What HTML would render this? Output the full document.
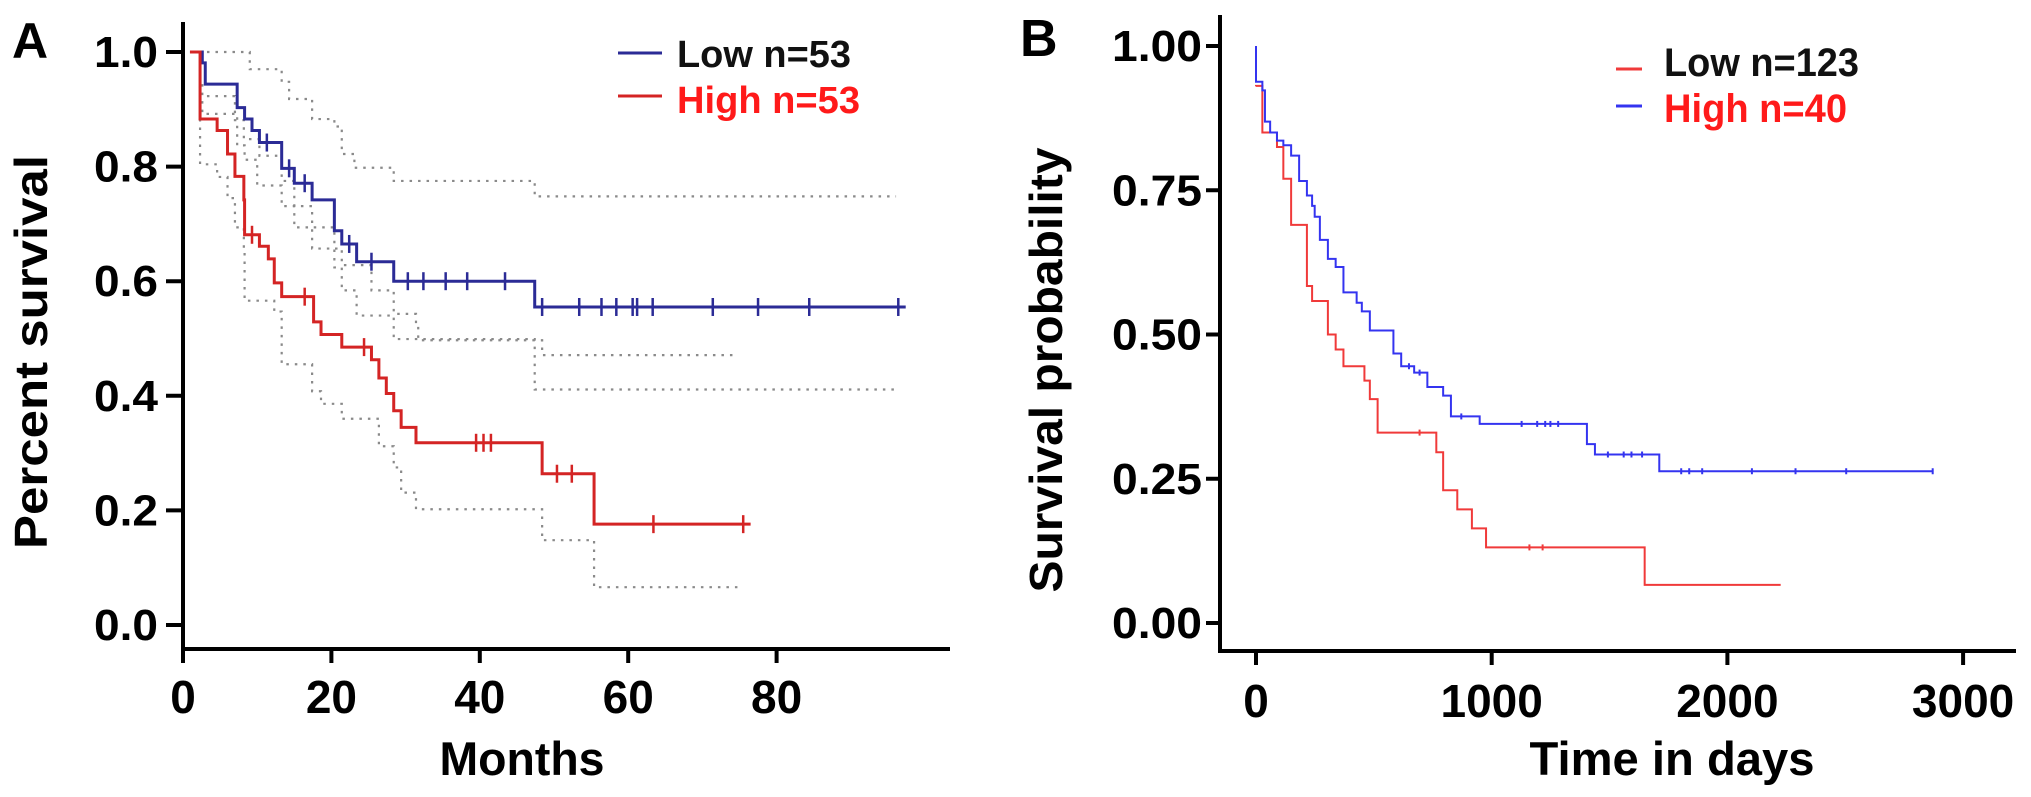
<!DOCTYPE html>
<html><head><meta charset="utf-8"><style>
html,body{margin:0;padding:0;background:#fff;}
svg{display:block;font-family:"Liberation Sans",Arial,sans-serif;font-weight:bold;}
</style></head>
<body>
<svg id="fig" width="2031" height="797" viewBox="0 0 2031 797" xmlns="http://www.w3.org/2000/svg">
<g id="panelA"></g>
<g id="panelB"></g>
</svg>
<script>
// ---------- Panel A data (months, survival) ----------
const aLowTimes=[2.6,3.0,7.3,8.3,9.3,10.3,13.3,15,17.4,20.4,21.4,23.4,28.4,47.4];
const aLowSurv=[0.981,0.944,0.903,0.883,0.863,0.842,0.797,0.771,0.742,0.688,0.665,0.634,0.600,0.555];
const aLowEnd=97.4;
const aLowCensor=[11.3,14.3,16.4,22.4,25.4,30.3,32.4,35.4,38.3,43.4,48.4,53.4,56.4,58.4,60.6,61.2,63.3,71.4,77.5,84.4,96.4];
const aHighTimes=[2.3,4.6,6,7,8.2,8.3,10.3,11.5,12.3,13.3,17.6,18.6,21.4,25.4,26.4,27.4,28.4,29.4,31.4,48.4,55.4];
const aHighSurv=[0.883,0.863,0.822,0.783,0.742,0.681,0.661,0.639,0.597,0.573,0.529,0.507,0.485,0.463,0.431,0.404,0.374,0.345,0.318,0.264,0.176];
const aHighEnd=76.5;
const aHighCensor=[9.3,16.4,24.4,39.5,40.5,41.5,50.4,52.4,63.4,75.5];
const aLowUpperTimes=[7.0,9.0,13.3,14.3,17.4,20.4,21.4,23.1,28.4,47.4];
const aLowUpperVals=[1.0,0.97,0.948,0.918,0.883,0.87,0.822,0.798,0.775,0.748];
const aLowUpperEnd=96.1;
const aLowLowerTimes=[2.6,7.3,8.3,10,13.3,15,17.4,20.4,21.4,23.4,28.4,47.4];
const aLowLowerVals=[0.892,0.837,0.812,0.767,0.731,0.694,0.657,0.624,0.584,0.54,0.499,0.411];
const aLowLowerEnd=96.4;
const aHighUpperTimes=[2.3,7,8.2,10.3,13.3,15,17.4,20.4,21.4,25.4,28.4,31.4,31.7,48.4];
const aHighUpperVals=[0.923,0.881,0.848,0.819,0.775,0.731,0.694,0.657,0.628,0.584,0.543,0.525,0.497,0.471];
const aHighUpperEnd=74.3;
const aHighLowerTimes=[2.3,4.6,6,7,8.2,8.3,12.3,13.3,17.4,18.6,21.4,26.4,28.4,29.4,31.4,48.4,55.4];
const aHighLowerVals=[0.804,0.782,0.745,0.694,0.65,0.566,0.547,0.455,0.408,0.386,0.36,0.312,0.275,0.231,0.202,0.148,0.066];
const aHighLowerEnd=75.5;
const aXTicks=[0,20,40,60,80];
const aYTicks=[0,0.2,0.4,0.6,0.8,1.0];
const aYTickLabels=["0.0","0.2","0.4","0.6","0.8","1.0"];
const aStart=0.94;

// ---------- Panel B data (days, survival) ----------
const bBlueTimes=[0,27,38,60,89,116,149,183,216,238,249,271,305,338,371,427,449,483,583,616,671,727,794,827,949,1404,1438,1711];
const bBlueSurv=[0.938,0.923,0.869,0.850,0.836,0.828,0.810,0.766,0.741,0.723,0.704,0.664,0.631,0.617,0.573,0.555,0.540,0.507,0.467,0.445,0.434,0.409,0.394,0.358,0.345,0.310,0.292,0.263];
const bBlueEnd=2871;
const bBlueCensor=[649,694,871,1127,1193,1227,1249,1282,1493,1560,1593,1638,1804,1838,1893,2104,2289,2504,2871];
const bRedTimes=[0,27,89,116,149,216,238,305,338,371,460,483,516,765,794,854,916,976,1649];
const bRedSurv=[0.931,0.850,0.825,0.770,0.690,0.584,0.558,0.500,0.474,0.445,0.420,0.388,0.330,0.296,0.230,0.197,0.164,0.131,0.066];
const bRedEnd=2226;
const bRedCensor=[694,1160,1216];
const bXTicks=[0,1000,2000,3000];
const bYTicks=[0,0.25,0.5,0.75,1.0];
const bYTickLabels=["0.00","0.25","0.50","0.75","1.00"];

const NS="http://www.w3.org/2000/svg";
function mk(parent,tag,attrs,text){
  const e=document.createElementNS(NS,tag);
  for(const k in attrs)e.setAttribute(k,attrs[k]);
  if(text!==undefined)e.textContent=text;
  parent.appendChild(e);return e;
}
function stepPath(x,y,t0,v0,times,vals,end){
  let d="M"+x(t0)+","+y(v0);
  for(let i=0;i<times.length;i++){d+=" H"+x(times[i])+" V"+y(vals[i]);}
  d+=" H"+x(end);return d;
}
function valueAt(t,times,vals,v0){let v=v0;for(let i=0;i<times.length;i++){if(times[i]<=t)v=vals[i];}return v;}

// ----- Panel A -----
const gA=document.getElementById('panelA');
const ax=m=>183+m*7.42;
const ay=v=>625-v*573;
let el;
el=mk(gA,'text',{x:12,y:58,'font-size':50});el.textContent='A';


el=mk(gA,'text',{x:0,y:0,'font-size':46,transform:'translate(47,352) rotate(-90)','text-anchor':'middle',textLength:394,lengthAdjust:'spacingAndGlyphs'});el.textContent='Percent survival';


el=mk(gA,'text',{x:522,y:775,'font-size':47,'text-anchor':'middle',textLength:165,lengthAdjust:'spacingAndGlyphs'});el.textContent='Months';


el=mk(gA,'line',{x1:183,y1:22,x2:183,y2:651,stroke:'#000','stroke-width':4});


el=mk(gA,'line',{x1:181,y1:649,x2:950,y2:649,stroke:'#000','stroke-width':4});


aYTicks.forEach((v,i)=>{
  const t=mk(gA,'line',{x1:166,y1:ay(v),x2:183,y2:ay(v),stroke:'#000','stroke-width':4});
  
  
  const l=mk(gA,'text',{x:158,y:ay(v)+15,'font-size':44,'text-anchor':'end',textLength:64,lengthAdjust:'spacingAndGlyphs'});l.textContent=aYTickLabels[i];
  
  
});
aXTicks.forEach(m=>{
  const t=mk(gA,'line',{x1:ax(m),y1:649,x2:ax(m),y2:663,stroke:'#000','stroke-width':4});
  
  
  const l=mk(gA,'text',{x:ax(m),y:713,'font-size':46,'text-anchor':'middle'});l.textContent=String(m);
  
  
});
// CI bands
[[aLowUpperTimes,aLowUpperVals,aLowUpperEnd,aStart,1.0,'ci-upper-low'],
 [aLowLowerTimes,aLowLowerVals,aLowLowerEnd,2.6,0.944,'ci-lower-low'],
 [aHighUpperTimes,aHighUpperVals,aHighUpperEnd,2.3,1.0,'ci-upper-high'],
 [aHighLowerTimes,aHighLowerVals,aHighLowerEnd,2.3,0.883,'ci-lower-high']].forEach(c=>{
  const p=mk(gA,'path',{d:stepPath(ax,ay,c[3],c[4],c[0],c[1],c[2]),fill:'none',stroke:'#8a8a8a','stroke-width':2.2,'stroke-dasharray':'2.5 6'});
  
  
});
const lowColA='#2b2b96', highColA='#d42424';
el=mk(gA,'path',{d:stepPath(ax,ay,aStart,1.0,aLowTimes,aLowSurv,aLowEnd),fill:'none',stroke:lowColA,'stroke-width':3});


el=mk(gA,'path',{d:stepPath(ax,ay,aStart,1.0,aHighTimes,aHighSurv,aHighEnd),fill:'none',stroke:highColA,'stroke-width':3});


aLowCensor.forEach(t=>{const v=valueAt(t,aLowTimes,aLowSurv,1);
  const c=mk(gA,'line',{x1:ax(t),y1:ay(v)-9,x2:ax(t),y2:ay(v)+9,stroke:lowColA,'stroke-width':2.5});
  
  });
aHighCensor.forEach(t=>{const v=valueAt(t,aHighTimes,aHighSurv,1);
  const c=mk(gA,'line',{x1:ax(t),y1:ay(v)-9,x2:ax(t),y2:ay(v)+9,stroke:highColA,'stroke-width':2.5});
  
  });
// legend A
el=mk(gA,'line',{x1:618,y1:53,x2:662,y2:53,stroke:lowColA,'stroke-width':3});


el=mk(gA,'text',{x:677,y:67,'font-size':38,fill:'#111',textLength:174,lengthAdjust:'spacingAndGlyphs'});el.textContent='Low n=53';


el=mk(gA,'line',{x1:618,y1:96,x2:662,y2:96,stroke:highColA,'stroke-width':3});


el=mk(gA,'text',{x:677,y:113,'font-size':38,fill:'#ff1a1a',textLength:183,lengthAdjust:'spacingAndGlyphs'});el.textContent='High n=53';



// ----- Panel B -----
const gB=document.getElementById('panelB');
const bx=d=>1256+d*0.2357;
const by=v=>623-v*577;
el=mk(gB,'text',{x:1020,y:56,'font-size':52});el.textContent='B';


el=mk(gB,'text',{x:0,y:0,'font-size':46,transform:'translate(1062,370) rotate(-90)','text-anchor':'middle',textLength:445,lengthAdjust:'spacingAndGlyphs'});el.textContent='Survival probability';


el=mk(gB,'text',{x:1672,y:775,'font-size':47,'text-anchor':'middle',textLength:285,lengthAdjust:'spacingAndGlyphs'});el.textContent='Time in days';


el=mk(gB,'line',{x1:1220,y1:15,x2:1220,y2:653,stroke:'#000','stroke-width':4});


el=mk(gB,'line',{x1:1218,y1:651,x2:2016,y2:651,stroke:'#000','stroke-width':4});


bYTicks.forEach((v,i)=>{
  const t=mk(gB,'line',{x1:1206,y1:by(v),x2:1220,y2:by(v),stroke:'#000','stroke-width':4});
  
  
  const l=mk(gB,'text',{x:1202,y:by(v)+15,'font-size':44,'text-anchor':'end',textLength:90,lengthAdjust:'spacingAndGlyphs'});l.textContent=bYTickLabels[i];
  
  
});
bXTicks.forEach(d=>{
  const t=mk(gB,'line',{x1:bx(d),y1:651,x2:bx(d),y2:665,stroke:'#000','stroke-width':4});
  
  
  const l=mk(gB,'text',{x:bx(d),y:717,'font-size':46,'text-anchor':'middle'});l.textContent=String(d);
  
  
});
const blueB='#3434f0', redB='#f03a3a';
el=mk(gB,'path',{d:stepPath(bx,by,0,0.93,bRedTimes,bRedSurv,bRedEnd),fill:'none',stroke:redB,'stroke-width':2});


el=mk(gB,'path',{d:stepPath(bx,by,0,1.0,bBlueTimes,bBlueSurv,bBlueEnd),fill:'none',stroke:blueB,'stroke-width':2});


bBlueCensor.forEach(t=>{const v=valueAt(t,bBlueTimes,bBlueSurv,1);
  const c=mk(gB,'line',{x1:bx(t),y1:by(v)-3,x2:bx(t),y2:by(v)+3,stroke:blueB,'stroke-width':2});
  
  });
bRedCensor.forEach(t=>{const v=valueAt(t,bRedTimes,bRedSurv,1);
  const c=mk(gB,'line',{x1:bx(t),y1:by(v)-3,x2:bx(t),y2:by(v)+3,stroke:redB,'stroke-width':2});
  
  });
// legend B
el=mk(gB,'line',{x1:1616,y1:69,x2:1642,y2:69,stroke:redB,'stroke-width':3});


el=mk(gB,'text',{x:1664,y:76,'font-size':40,fill:'#111',textLength:195,lengthAdjust:'spacingAndGlyphs'});el.textContent='Low n=123';


el=mk(gB,'line',{x1:1616,y1:106,x2:1642,y2:106,stroke:blueB,'stroke-width':3});


el=mk(gB,'text',{x:1664,y:122,'font-size':40,fill:'#ff1a1a',textLength:183,lengthAdjust:'spacingAndGlyphs'});el.textContent='High n=40';


</script>
</body></html>
